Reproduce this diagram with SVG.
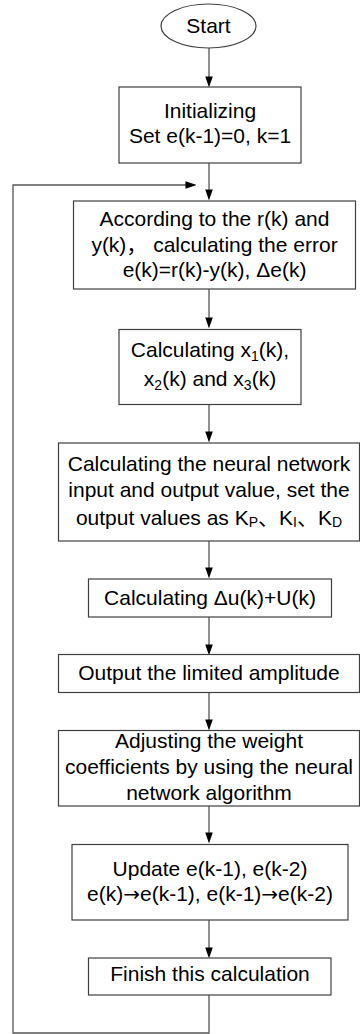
<svg xmlns="http://www.w3.org/2000/svg" width="360" height="1034" viewBox="0 0 360 1034">
<style>
.box{fill:#fff;stroke:#404040;stroke-width:1.2}
.ln{fill:none;stroke:#555;stroke-width:1.3}
text{font-family:"Liberation Sans",Arial,"Noto Sans CJK SC",sans-serif;font-size:21px;fill:#000;text-anchor:middle}
.sub{font-size:14px}
.arr{font-family:"DejaVu Sans",sans-serif;font-size:20px}
</style>
<defs>
<marker id="ah" markerWidth="11" markerHeight="16" refX="11" refY="5.5" orient="auto" markerUnits="userSpaceOnUse" viewBox="0 0 16 11">
<path d="M0,0 L16,5.5 L0,11 Z" fill="#000"/>
</marker>
</defs>
<rect width="360" height="1034" fill="#fff"/>
<g id="connectors">
<line class="ln" x1="209" y1="48" x2="209" y2="84" marker-end="url(#ah)"/>
<line class="ln" x1="209" y1="163" x2="209" y2="197" marker-end="url(#ah)"/>
<line class="ln" x1="209" y1="289" x2="209" y2="325" marker-end="url(#ah)"/>
<line class="ln" x1="209" y1="404" x2="209" y2="439" marker-end="url(#ah)"/>
<line class="ln" x1="209" y1="541" x2="209" y2="575" marker-end="url(#ah)"/>
<line class="ln" x1="209" y1="617" x2="209" y2="652" marker-end="url(#ah)"/>
<line class="ln" x1="209" y1="693" x2="209" y2="727" marker-end="url(#ah)"/>
<line class="ln" x1="209" y1="806" x2="209" y2="840" marker-end="url(#ah)"/>
<line class="ln" x1="209" y1="920" x2="209" y2="955" marker-end="url(#ah)"/>
<polyline class="ln" points="209,995 209,1033 13,1033 13,185 193,185" marker-end="url(#ah)"/>
</g>
<g id="start">
<ellipse cx="208.5" cy="26" rx="47.5" ry="22" class="box"/>
<text x="208.5" y="33">Start</text>
</g>
<g id="init">
<rect class="box" x="119" y="87" width="182" height="76"/>
<text x="210" y="118">Initializing</text>
<text x="210" y="143">Set e(k-1)=0, k=1</text>
</g>
<g id="error">
<rect class="box" x="73.5" y="201" width="282" height="88"/>
<text x="214.5" y="226">According to the r(k) and</text>
<text x="214.5" y="252">y(k)， calculating the error</text>
<text x="214.5" y="277">e(k)=r(k)-y(k), Δe(k)</text>
</g>
<g id="calcx">
<rect class="box" x="119" y="329.5" width="182" height="75"/>
<text x="210" y="357">Calculating x<tspan class="sub" dy="4">1</tspan><tspan dy="-4">(k),</tspan></text>
<text x="210" y="386">x<tspan class="sub" dy="4">2</tspan><tspan dy="-4">(k) and x</tspan><tspan class="sub" dy="4">3</tspan><tspan dy="-4">(k)</tspan></text>
</g>
<g id="nn">
<rect class="box" x="58.5" y="443" width="301" height="98"/>
<text x="209" y="471">Calculating the neural network</text>
<text x="209" y="497">input and output value, set the</text>
<text x="209" y="525">output values as K<tspan class="sub" dy="2">P</tspan><tspan dy="-2">、K</tspan><tspan class="sub" dy="2">I</tspan><tspan dy="-2">、K</tspan><tspan class="sub" dy="2">D</tspan></text>
</g>
<g id="du">
<rect class="box" x="88.5" y="579" width="243" height="38"/>
<text x="210" y="605">Calculating Δu(k)+U(k)</text>
</g>
<g id="limit">
<rect class="box" x="58.5" y="654.5" width="301" height="38"/>
<text x="209" y="680">Output the limited amplitude</text>
</g>
<g id="adjust">
<rect class="box" x="58.5" y="730.5" width="301" height="75.5"/>
<text x="209" y="748">Adjusting the weight</text>
<text x="209" y="774">coefficients by using the neural</text>
<text x="209" y="800">network algorithm</text>
</g>
<g id="update">
<rect class="box" x="72" y="844.5" width="276" height="75.5"/>
<text x="210" y="876">Update e(k-1), e(k-2)</text>
<text x="210" y="901">e(k)<tspan class="arr">→</tspan>e(k-1), e(k-1)<tspan class="arr">→</tspan>e(k-2)</text>
</g>
<g id="finish">
<rect class="box" x="88.5" y="958" width="242.5" height="37"/>
<text x="210" y="981">Finish this calculation</text>
</g>
</svg>
